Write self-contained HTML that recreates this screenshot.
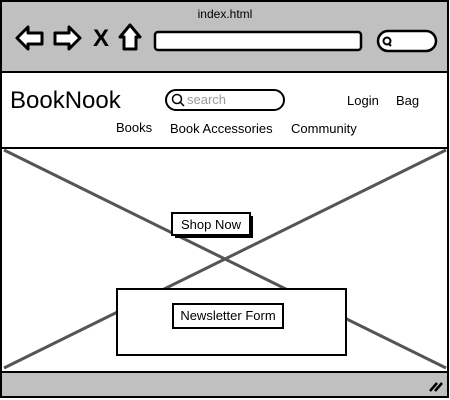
<!DOCTYPE html>
<html><head><style>body{margin:0;background:#fff}svg{display:block}text{font-family:"Liberation Sans",sans-serif}</style></head><body>
<svg width="450" height="400" viewBox="0 0 450 400">
<rect x="1" y="1" width="447" height="396" fill="#fff" stroke="#000" stroke-width="2"/>
<rect x="2" y="2" width="445" height="70" fill="#c0c0c0"/>
<line x1="1" y1="72" x2="448" y2="72" stroke="#000" stroke-width="2"/>
<text x="225" y="18" font-size="12" text-anchor="middle">index.html</text>
<path d="M17 38 L28 27 L28 33 L42 33 L42 44 L28 44 L28 49 Z" fill="#fff" stroke="#000" stroke-width="3" stroke-linejoin="round"/>
<path d="M80 38 L69 27 L69 33 L55 33 L55 44 L69 44 L69 49 Z" fill="#fff" stroke="#000" stroke-width="3" stroke-linejoin="round"/>
<text x="101" y="46" font-size="24" font-weight="bold" text-anchor="middle">X</text>
<path d="M130 25 L140 37 L136 37 L136 49 L124 49 L124 37 L120 37 Z" fill="#fff" stroke="#000" stroke-width="3" stroke-linejoin="round"/>
<rect x="155" y="32" width="206" height="18" rx="3" fill="#fff" stroke="#000" stroke-width="2.5"/>
<rect x="378" y="31" width="58" height="20" rx="10" fill="#fff" stroke="#000" stroke-width="2.5"/>
<circle cx="387" cy="41" r="3.5" fill="none" stroke="#000" stroke-width="2"/><line x1="389" y1="44" x2="391" y2="46" stroke="#000" stroke-width="2"/>
<text x="10" y="108" font-size="24">BookNook</text>
<rect x="166" y="90" width="118" height="20" rx="10" fill="#fff" stroke="#000" stroke-width="2"/>
<circle cx="177" cy="99" r="4.5" fill="none" stroke="#000" stroke-width="1.5"/><line x1="180" y1="102" x2="184" y2="106" stroke="#000" stroke-width="1.5"/>
<text x="187" y="104" font-size="13" fill="#999">search</text>
<text x="347" y="105" font-size="13">Login</text>
<text x="396" y="105" font-size="13">Bag</text>
<text x="116" y="132" font-size="13">Books</text>
<text x="170" y="133" font-size="13">Book Accessories</text>
<text x="291" y="133" font-size="13">Community</text>
<line x1="1" y1="148" x2="448" y2="148" stroke="#000" stroke-width="2"/>
<line x1="4" y1="150" x2="446" y2="368" stroke="#555" stroke-width="3"/>
<line x1="446" y1="150" x2="4" y2="368" stroke="#555" stroke-width="3"/>
<rect x="2" y="372" width="445" height="24" fill="#c0c0c0"/>
<line x1="1" y1="372" x2="448" y2="372" stroke="#000" stroke-width="2"/>
<path d="M430 391 L437 383 M435 391 L442 383" stroke="#000" stroke-width="2.5"/>
<rect x="175" y="216" width="78" height="22" fill="#000"/>
<rect x="172" y="213" width="78" height="22" fill="#fff" stroke="#000" stroke-width="2"/>
<text x="211" y="229" font-size="13" text-anchor="middle">Shop Now</text>
<rect x="117" y="289" width="229" height="66" fill="#fff" stroke="#000" stroke-width="2"/>
<rect x="173" y="304" width="110" height="24" fill="#fff" stroke="#000" stroke-width="2"/>
<text x="228" y="320" font-size="13" text-anchor="middle">Newsletter Form</text>
</svg>
</body></html>
